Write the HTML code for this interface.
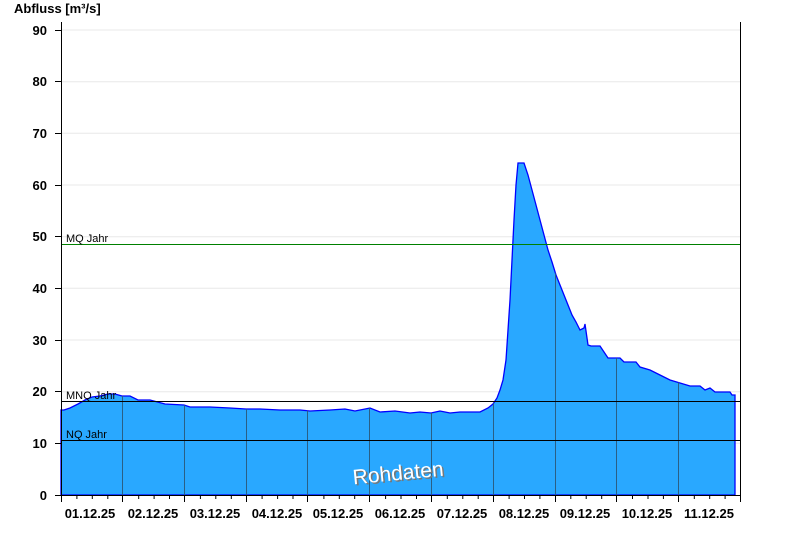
<!DOCTYPE html><html><head><style>body{margin:0;background:#fff}svg{display:block;font-family:"Liberation Sans",Arial,sans-serif}</style></head><body>
<svg width="800" height="550" xmlns="http://www.w3.org/2000/svg">
<defs><clipPath id="c"><polygon points="61,495 61,410 64,410 70,408 78,404 85,400 92,397 100,396 108,394 115,394 122,396 130,396 138,400 150,400 165,404 184,405 190,407 210,407 230,408 246,409 260,409 280,410 300,410 310,411 330,410 345,409 355,411 370,408 380,412 395,411 410,413 420,412 431,413 440,411 450,413 460,412 480,412 488,408 493,404 497,398 500,390 503,380 506,360 508,330 510,300 512,260 514,220 516,185 518,163 524,163 528,175 532,190 536,205 540,220 544,235 548,250 552,262 556,275 560,285 564,295 568,305 572,315 576,322 580,330 584,328 585,324 588,345 591,346 600,346 604,352 608,358 620,358 624,362 636,362 640,367 650,370 660,375 670,380 680,383 690,386 700,386 705,390 710,388 715,392 730,392 732,395 735,395 735,495"/></clipPath></defs>
<g stroke="#e8e8e8" stroke-width="1">
<line x1="61" x2="740" y1="443.3" y2="443.3"/><line x1="61" x2="740" y1="391.7" y2="391.7"/><line x1="61" x2="740" y1="340" y2="340"/><line x1="61" x2="740" y1="288.3" y2="288.3"/><line x1="61" x2="740" y1="236.7" y2="236.7"/><line x1="61" x2="740" y1="185" y2="185"/><line x1="61" x2="740" y1="133.3" y2="133.3"/><line x1="61" x2="740" y1="81.7" y2="81.7"/><line x1="61" x2="740" y1="30" y2="30"/>
</g>
<polygon points="61,495 61,410 64,410 70,408 78,404 85,400 92,397 100,396 108,394 115,394 122,396 130,396 138,400 150,400 165,404 184,405 190,407 210,407 230,408 246,409 260,409 280,410 300,410 310,411 330,410 345,409 355,411 370,408 380,412 395,411 410,413 420,412 431,413 440,411 450,413 460,412 480,412 488,408 493,404 497,398 500,390 503,380 506,360 508,330 510,300 512,260 514,220 516,185 518,163 524,163 528,175 532,190 536,205 540,220 544,235 548,250 552,262 556,275 560,285 564,295 568,305 572,315 576,322 580,330 584,328 585,324 588,345 591,346 600,346 604,352 608,358 620,358 624,362 636,362 640,367 650,370 660,375 670,380 680,383 690,386 700,386 705,390 710,388 715,392 730,392 732,395 735,395 735,495" fill="#29a8ff" stroke="#0000ff" stroke-width="1.3"/>
<g stroke="#2a5f85" stroke-width="1" clip-path="url(#c)">
<line x1="122.5" x2="122.5" y1="150" y2="495"/><line x1="184.5" x2="184.5" y1="150" y2="495"/><line x1="246.5" x2="246.5" y1="150" y2="495"/><line x1="307.5" x2="307.5" y1="150" y2="495"/><line x1="369.5" x2="369.5" y1="150" y2="495"/><line x1="431.5" x2="431.5" y1="150" y2="495"/><line x1="493.5" x2="493.5" y1="150" y2="495"/><line x1="555.5" x2="555.5" y1="150" y2="495"/><line x1="616.5" x2="616.5" y1="150" y2="495"/><line x1="678.5" x2="678.5" y1="150" y2="495"/>
</g>
<line x1="61" x2="740" y1="244.5" y2="244.5" stroke="#008000"/>
<line x1="61" x2="740" y1="401.5" y2="401.5" stroke="#000"/>
<line x1="61" x2="740" y1="440.5" y2="440.5" stroke="#000"/>
<g font-size="11" fill="#000"><text x="66" y="242">MQ Jahr</text><text x="66" y="399">MNQ Jahr</text><text x="66" y="438">NQ Jahr</text></g>
<g transform="rotate(-5.5 398 472)" font-size="21" text-anchor="middle">
<text x="399.5" y="481.5" fill="#777">Rohdaten</text>
<text x="398" y="480" fill="#fff">Rohdaten</text>
</g>
<line x1="61.5" x2="61.5" y1="22" y2="495" stroke="#000"/>
<line x1="740.5" x2="740.5" y1="22" y2="495" stroke="#000"/>
<line x1="61" x2="740" y1="495.5" y2="495.5" stroke="#000"/>
<g stroke="#000">
<line x1="55" x2="61" y1="495.5" y2="495.5"/><line x1="55" x2="61" y1="443.5" y2="443.5"/><line x1="55" x2="61" y1="391.5" y2="391.5"/><line x1="55" x2="61" y1="340.5" y2="340.5"/><line x1="55" x2="61" y1="288.5" y2="288.5"/><line x1="55" x2="61" y1="236.5" y2="236.5"/><line x1="55" x2="61" y1="185.5" y2="185.5"/><line x1="55" x2="61" y1="133.5" y2="133.5"/><line x1="55" x2="61" y1="81.5" y2="81.5"/><line x1="55" x2="61" y1="30.5" y2="30.5"/>
</g>
<g font-size="13" font-weight="bold" text-anchor="end">
<text x="47" y="500">0</text><text x="47" y="448">10</text><text x="47" y="396">20</text><text x="47" y="345">30</text><text x="47" y="293">40</text><text x="47" y="241">50</text><text x="47" y="190">60</text><text x="47" y="138">70</text><text x="47" y="86">80</text><text x="47" y="35">90</text>
</g>
<text x="14" y="13" font-size="13" font-weight="bold">Abfluss [m³/s]</text>
<g font-size="13" font-weight="bold" text-anchor="middle">
<text x="90" y="518">01.12.25</text><text x="153" y="518">02.12.25</text><text x="215" y="518">03.12.25</text><text x="277" y="518">04.12.25</text><text x="338" y="518">05.12.25</text><text x="400" y="518">06.12.25</text><text x="462" y="518">07.12.25</text><text x="524" y="518">08.12.25</text><text x="585" y="518">09.12.25</text><text x="647" y="518">10.12.25</text><text x="709" y="518">11.12.25</text>
</g>
<g stroke="#000" stroke-width="1">
<path d="M61.5 495v7M76.9 495v4M92.3 495v4M107.8 495v4M122.5 495v7M138.7 495v4M154.1 495v4M169.5 495v4M184.5 495v7M200.4 495v4M215.8 495v4M231.3 495v4M246.5 495v7M262.1 495v4M277.6 495v4M293 495v4M307.5 495v7M323.9 495v4M339.3 495v4M354.7 495v4M369.5 495v7M385.6 495v4M401 495v4M416.5 495v4M431.5 495v7M447.3 495v4M462.8 495v4M478.2 495v4M493.5 495v7M509.1 495v4M524.5 495v4M539.9 495v4M555.5 495v7M570.8 495v4M586.2 495v4M601.7 495v4M616.5 495v7M632.5 495v4M648 495v4M663.4 495v4M678.5 495v7M694.3 495v4M709.7 495v4M725.1 495v4M740.5 495v7"/>
</g>
</svg>
</body></html>
